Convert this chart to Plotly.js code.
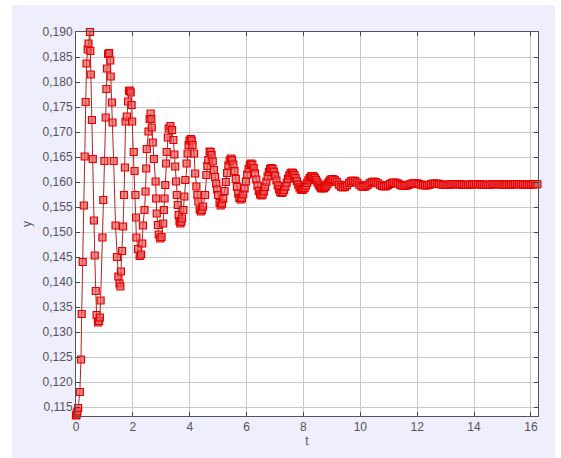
<!DOCTYPE html>
<html>
<head>
<meta charset="utf-8">
<script src="https://cdn.plot.ly/plotly-3.0.1.min.js"></script>
<style>html,body{margin:0;padding:0;background:#fff;}#chart{width:561px;height:458px;}</style>
</head>
<body>
<div id="chart"></div>
<script>
// time and response (early part, t < 5.1)
var tEarly = [0, 0.015, 0.03, 0.05, 0.075, 0.135, 0.175, 0.20, 0.235, 0.275, 0.305, 0.34, 0.37, 0.41, 0.44, 0.49,
  0.505, 0.52, 0.56, 0.59, 0.63, 0.66, 0.695, 0.725, 0.775, 0.81, 0.84, 0.865,
  0.93, 0.96, 1.0, 1.045, 1.07, 1.09, 1.13, 1.165, 1.205, 1.22, 1.265, 1.285,
  1.325, 1.39, 1.44, 1.49, 1.53, 1.56, 1.58, 1.62, 1.655, 1.69, 1.72, 1.745, 1.79, 1.83, 1.865, 1.89, 1.925, 1.955, 1.975,
  2.03, 2.06, 2.09, 2.11, 2.125, 2.18, 2.24, 2.29, 2.33, 2.355, 2.41, 2.445, 2.47, 2.49, 2.55, 2.59, 2.625, 2.65, 2.665,
  2.70, 2.74, 2.80, 2.82, 2.84, 2.88, 2.91, 2.96, 3.01, 3.065, 3.09, 3.115, 3.14, 3.17, 3.19, 3.23, 3.26, 3.32,
  3.38, 3.425, 3.46, 3.49, 3.52, 3.545, 3.58, 3.61, 3.64, 3.67, 3.70, 3.73, 3.775, 3.81, 3.845, 3.89, 3.925, 3.96, 3.99, 4.04,
  4.07, 4.10, 4.155, 4.19, 4.235, 4.27, 4.305, 4.35, 4.39, 4.43, 4.47, 4.54, 4.585, 4.62, 4.655, 4.70, 4.735, 4.77,
  4.81, 4.85, 4.89, 4.93, 4.965, 5.00, 5.05];
var yEarly = [0.1133, 0.1134, 0.1137, 0.1141, 0.1148, 0.1180, 0.1245, 0.1336, 0.1440, 0.1553, 0.1651, 0.1760, 0.1837, 0.1865, 0.1877, 0.1900,
  0.1862, 0.1815, 0.1724, 0.1646, 0.1523, 0.1453, 0.1382, 0.1334, 0.1319, 0.1322, 0.1329, 0.1363,
  0.1489, 0.1564, 0.1642, 0.1729, 0.1786, 0.1827, 0.1856, 0.1858, 0.1843, 0.1811, 0.1759, 0.1719,
  0.1642, 0.1513, 0.1450, 0.1411, 0.1397, 0.1391, 0.1421, 0.1462, 0.1511, 0.1574, 0.1629, 0.1721, 0.1731, 0.1761, 0.1782, 0.1783, 0.1779, 0.1754, 0.1721,
  0.1660, 0.1622, 0.1574, 0.1529, 0.1489, 0.1466, 0.1452, 0.1455, 0.1477, 0.1513, 0.1544, 0.1581, 0.1627, 0.1666, 0.1701, 0.1726, 0.1737, 0.1726, 0.1709,
  0.1679, 0.1646, 0.1601, 0.1567, 0.1537, 0.1514, 0.1495, 0.1487, 0.1490, 0.1517, 0.1544, 0.1567, 0.1594, 0.1637, 0.1660, 0.1689, 0.1707, 0.1712,
  0.1704, 0.1684, 0.1655, 0.1631, 0.1601, 0.1574, 0.1554, 0.1534, 0.1522, 0.1517, 0.1520, 0.1527, 0.1544, 0.1571, 0.1604, 0.1637, 0.1657, 0.1674, 0.1683, 0.1686,
  0.1683, 0.1674, 0.1657, 0.1617, 0.1591, 0.1574, 0.1561, 0.1545, 0.1541, 0.1544, 0.1551, 0.1574, 0.1614, 0.1632, 0.1644, 0.1661, 0.1660, 0.1654,
  0.1641, 0.1624, 0.1610, 0.1597, 0.1585, 0.1574, 0.1558];

// middle part, 5.09 <= t <= 9.03
var tMid = [5.09, 5.135, 5.18, 5.225, 5.27, 5.315, 5.36, 5.405, 5.45,
  5.49, 5.535, 5.575, 5.62, 5.66, 5.705, 5.745, 5.79,
  5.835, 5.88, 5.93, 5.975, 6.02, 6.07, 6.115, 6.16,
  6.205, 6.25, 6.295, 6.34, 6.385, 6.43, 6.475, 6.52,
  6.565, 6.61, 6.65, 6.695, 6.74, 6.785, 6.825, 6.87,
  6.915, 6.96, 7.005, 7.05, 7.095, 7.14, 7.185, 7.23,
  7.275, 7.32, 7.365, 7.41, 7.455, 7.5, 7.545, 7.59,
  7.635, 7.68, 7.725, 7.77, 7.815, 7.86, 7.905, 7.95,
  7.995, 8.04, 8.085, 8.13, 8.175, 8.22, 8.265, 8.31,
  8.355, 8.4, 8.445, 8.49, 8.535, 8.58, 8.625, 8.67,
  8.715, 8.76, 8.805, 8.85, 8.895, 8.94, 8.985, 9.03];
var yMid = [0.1553, 0.15566, 0.15668, 0.1582, 0.1600, 0.1618, 0.1633, 0.1643, 0.1647,
  0.16439, 0.1635, 0.16217, 0.1606, 0.15903, 0.1577, 0.15681, 0.1565,
  0.15677, 0.15755, 0.15872, 0.1601, 0.16148, 0.16265, 0.16343, 0.1637,
  0.16346, 0.16276, 0.16173, 0.1605, 0.15927, 0.15824, 0.15754, 0.1573,
  0.15751, 0.15811, 0.15900, 0.16005, 0.16110, 0.16199, 0.16259, 0.1628,
  0.16261, 0.16207, 0.16126, 0.1603, 0.15934, 0.15853, 0.15799, 0.1578,
  0.15796, 0.15840, 0.15907, 0.15985, 0.16063, 0.16130, 0.16174, 0.1619,
  0.16177, 0.16139, 0.16082, 0.16015, 0.15948, 0.15891, 0.15853, 0.1584,
  0.15851, 0.15881, 0.15926, 0.1598, 0.16034, 0.16079, 0.16109, 0.1612,
  0.16111, 0.16083, 0.16043, 0.15995, 0.15947, 0.15907, 0.15879, 0.1587,
  0.15877, 0.15898, 0.15929, 0.15965, 0.16001, 0.16032, 0.16053, 0.1606];

// late part, t > 9.03
var tLate = [9.102, 9.174, 9.246, 9.318, 9.39, 9.462, 9.534, 9.606, 9.678, 9.75,
  9.822, 9.894, 9.966, 10.038, 10.11, 10.182, 10.254, 10.326, 10.398, 10.47,
  10.542, 10.614, 10.686, 10.758, 10.83, 10.902, 10.974, 11.046, 11.118, 11.19,
  11.262, 11.334, 11.406, 11.478, 11.55, 11.622, 11.694, 11.766, 11.838, 11.91,
  11.982, 12.054, 12.126, 12.198, 12.27, 12.342, 12.414, 12.486, 12.558, 12.63,
  12.702, 12.774, 12.846, 12.918, 12.99,
  13.062, 13.134, 13.206, 13.278, 13.35, 13.422, 13.494, 13.566, 13.638, 13.71,
  13.782, 13.854, 13.926, 13.998, 14.07, 14.142, 14.214, 14.286, 14.358, 14.43,
  14.502, 14.574, 14.646, 14.718, 14.79, 14.862, 14.934, 15.006, 15.078, 15.15,
  15.222, 15.294, 15.366, 15.438, 15.51, 15.582, 15.654, 15.726, 15.798, 15.87,
  15.942, 16.014, 16.086, 16.158, 16.23];
var yLate = [0.16044, 0.16001, 0.15949, 0.15906, 0.1589, 0.15903, 0.15938, 0.15982, 0.16017, 0.1603,
  0.16018, 0.15985, 0.15945, 0.15912, 0.1590, 0.15911, 0.15938, 0.15972, 0.15999, 0.1601,
  0.1600, 0.15975, 0.15945, 0.1592, 0.1591, 0.15918, 0.15938, 0.15962, 0.15982, 0.1599,
  0.15983, 0.15966, 0.15944, 0.15927, 0.1592, 0.15926, 0.15941, 0.15959, 0.15974, 0.1598,
  0.15975, 0.15963, 0.15947, 0.15935, 0.1593, 0.15934, 0.15944, 0.15956, 0.15966, 0.1597,
  0.15967, 0.1596, 0.1595, 0.15943, 0.1594,
  0.15943, 0.15947, 0.15953, 0.15957, 0.15959, 0.15957, 0.15953, 0.15947, 0.15943, 0.15942,
  0.15944, 0.15948, 0.15953, 0.15957, 0.15958, 0.15956, 0.15952, 0.15948, 0.15945, 0.15944,
  0.15945, 0.15949, 0.15953, 0.15956, 0.15957, 0.15955, 0.15952, 0.15949, 0.15946, 0.15945,
  0.15946, 0.15949, 0.15953, 0.15955, 0.15956, 0.15955, 0.15952, 0.15949, 0.15947, 0.15946,
  0.15947, 0.1595, 0.15953, 0.15955, 0.15955];

var xTickVals = [0, 2, 4, 6, 8, 10, 12, 14, 16];
var xTickText = ['0', '2', '4', '6', '8', '10', '12', '14', '16'];
var yTickVals = [0.115, 0.120, 0.125, 0.130, 0.135, 0.140, 0.145, 0.150, 0.155, 0.160, 0.165, 0.170, 0.175, 0.180, 0.185, 0.190];
var yTickText = ['0,115', '0,120', '0,125', '0,130', '0,135', '0,140', '0,145', '0,150', '0,155', '0,160', '0,165', '0,170', '0,175', '0,180', '0,185', '0,190'];

var tAll = tEarly.concat(tMid, tLate);
var yAll = yEarly.concat(yMid, yLate);

var trace = {
  x: tAll, y: yAll, type: 'scatter', mode: 'lines+markers', cliponaxis: false,
  line: {color: 'rgb(175,35,35)', width: 1},
  marker: {symbol: 'square', size: 7, color: 'rgba(230,90,90,0.7)', line: {color: 'rgb(230,0,0)', width: 1.2}}
};

var axisCommon = {
  ticks: 'inside', ticklen: 4, tickwidth: 1, tickcolor: '#444',
  showline: true, linecolor: '#555', linewidth: 1, mirror: 'ticks',
  showgrid: true, gridcolor: '#c9c9c9', gridwidth: 1, zeroline: false,
  tickfont: {family: 'Liberation Sans, Arial, sans-serif', size: 12, color: '#555'}
};

var layout = {
  width: 561, height: 458,
  margin: {l: 76, r: 23, t: 32, b: 42, pad: 0},
  paper_bgcolor: 'white', plot_bgcolor: 'white',
  showlegend: false,
  font: {family: 'Liberation Sans, Arial, sans-serif', size: 12, color: '#555'},
  xaxis: Object.assign({}, axisCommon, {
    range: [0, 16.25], tickmode: 'array', tickvals: xTickVals, ticktext: xTickText,
    title: {text: 't', standoff: 0, font: {size: 12, color: '#555'}}
  }),
  yaxis: Object.assign({}, axisCommon, {
    range: [0.1132, 0.1900], tickmode: 'array', tickvals: yTickVals, ticktext: yTickText,
    title: {text: 'y', standoff: 8, font: {size: 12, color: '#555'}}
  }),
  shapes: [
    {type: 'rect', xref: 'paper', yref: 'paper', x0: -0.1385, x1: 1.0368, y0: -0.12, y1: 1.0703,
     fillcolor: 'rgb(238,238,252)', line: {width: 0}, layer: 'below'},
    {type: 'rect', xref: 'paper', yref: 'paper', x0: 0, x1: 1, y0: 0, y1: 1,
     fillcolor: 'white', line: {width: 0}, layer: 'below'}
  ]
};

Plotly.newPlot('chart', [trace], layout, {displayModeBar: false, staticPlot: true});
</script>
</body>
</html>
